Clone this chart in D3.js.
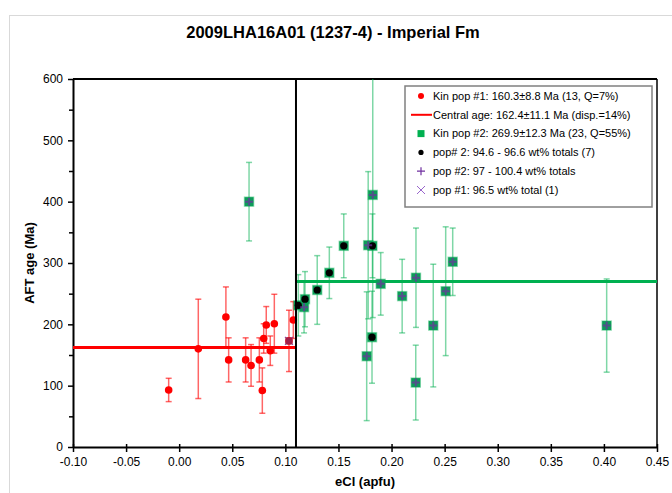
<!DOCTYPE html>
<html>
<head>
<meta charset="utf-8">
<script src="https://cdn.jsdelivr.net/npm/d3@7"></script>
<style>
  body { margin: 0; background: #fff; }
  text { font-family: "Liberation Sans", Arial, sans-serif; }
</style>
</head>
<body>
<div id="chart"></div>
<script>
// 坐标轴刻度
const X_TICKS = [-0.10, -0.05, 0.00, 0.05, 0.10, 0.15, 0.20, 0.25, 0.30, 0.35, 0.40, 0.45];
const Y_TICKS = [0, 100, 200, 300, 400, 500, 600];

// Kin pop #1 (红色圆点)
const POP1_ECL = [-0.0099, 0.018, 0.044, 0.0466, 0.0626, 0.0677, 0.0755, 0.0783, 0.0796, 0.082, 0.0858, 0.0896, 0.1034, 0.1075];
const POP1_AGE = [93, 160, 212, 142, 142, 133, 142, 92, 177, 199, 157, 201, 173, 207];
const POP1_ERR = [19, 81, 49, 36, 36, 34, 36, 37, 24, 30, 24, 48, 50, 30];
// pop #1: 96.5 wt% total (1)
const CROSS_ECL = [0.1034];
const CROSS_AGE = [173];

// Kin pop #2 (绿色方块)
const POP2_ECL = [0.0658, 0.1122, 0.1176, 0.1185, 0.130, 0.1414, 0.155, 0.1766, 0.178, 0.1816, 0.182, 0.1823, 0.1898, 0.210, 0.2228, 0.223, 0.2393, 0.251, 0.2576, 0.4026];
const POP2_AGE = [400, 231, 228, 241, 256, 284, 328, 148, 329, 179, 328, 411, 266, 246, 105, 276, 198, 254, 302, 198];
const POP2_ERR = [64, 50, 42, 45, 56, 42, 52, 105, 120, 75, 52, 200, 51, 60, 61, 81, 100, 105, 55, 76];
// 叠加标记: dot = 94.6-96.6 wt%, plus = 97-100.4 wt%
const POP2_GROUP = ["plus", "dot", "plus", "dot", "dot", "dot", "dot", "plus", "plus", "dot", "dot", "plus", "plus", "plus", "plus", "plus", "plus", "plus", "plus", "plus"];

// 中心年龄线
const CENTRAL_AGES = [
  { from: -0.10, to: 0.11, age: 162.4, color: "#ff0000" },
  { from: 0.11, to: 0.45, age: 269.9, color: "#00b050" }
];
const DIVIDER_ECL = 0.11;

const LEGEND_LABELS = [
  "Kin pop #1: 160.3±8.8 Ma (13, Q=7%)",
  "Central age: 162.4±11.1 Ma (disp.=14%)",
  "Kin pop #2: 269.9±12.3 Ma (23, Q=55%)",
  "pop# 2: 94.6 - 96.6 wt% totals (7)",
  "pop #2: 97 - 100.4 wt% totals",
  "pop #1: 96.5 wt% total (1)"
];

const RED = "#ff0000", GREEN = "#00b050", PURPLE = "#7030a0";

function drawChart() {
  const W = 672, H = 493;
  const margin = { top: 79, right: 15, bottom: 46, left: 73 };
  const width = W - margin.left - margin.right;
  const height = H - margin.top - margin.bottom;

  const svg = d3.select("#chart").append("svg")
    .attr("width", W).attr("height", H);

  // 外框
  svg.append("rect")
    .attr("x", 9.5).attr("y", 15.5)
    .attr("width", W).attr("height", H)
    .attr("fill", "none").attr("stroke", "#d9d9d9");

  svg.append("text")
    .attr("x", 333).attr("y", 38)
    .attr("text-anchor", "middle")
    .style("font-size", "16.5px").style("font-weight", "bold")
    .text("2009LHA16A01 (1237-4) - Imperial Fm");

  const g = svg.append("g").attr("transform", `translate(${margin.left},${margin.top})`);

  const x = d3.scaleLinear().domain([-0.10, 0.45]).range([0, width]);
  const y = d3.scaleLinear().domain([0, 600]).range([height, 0]);

  g.append("clipPath").attr("id", "clip")
    .append("rect").attr("width", width).attr("height", height);

  // 坐标轴
  const xAxis = g.append("g")
    .attr("transform", `translate(0,${height})`)
    .call(d3.axisBottom(x).tickValues(X_TICKS).tickFormat(d => d.toFixed(2)).tickSizeInner(5).tickSizeOuter(0));
  xAxis.selectAll(".tick line").attr("y1", -3).attr("y2", 5).attr("stroke-width", 1.5);
  xAxis.selectAll("text").style("font-size", "12px").attr("dy", "0.9em").attr("fill", "#000");
  xAxis.select(".domain").attr("stroke-width", 2);

  const yAxis = g.append("g")
    .call(d3.axisLeft(y).tickValues(Y_TICKS).tickSizeInner(5).tickSizeOuter(0));
  yAxis.selectAll("text").style("font-size", "12px").attr("x", -10).attr("fill", "#000");
  yAxis.selectAll(".tick line").attr("stroke-width", 1.5);
  yAxis.select(".domain").attr("stroke-width", 2);
  // 次刻度
  g.append("g")
    .call(d3.axisLeft(y).tickValues(d3.range(50, 600, 100)).tickSize(4).tickFormat(""))
    .call(a => a.select(".domain").remove())
    .selectAll("line").attr("stroke-width", 1.5);

  // 顶部与右侧边框
  g.append("line").attr("x1", 0).attr("x2", width).attr("y1", 0).attr("y2", 0)
    .attr("stroke", "#000").attr("stroke-width", 2);
  g.append("line").attr("x1", width).attr("x2", width).attr("y1", 0).attr("y2", height)
    .attr("stroke", "#000").attr("stroke-width", 1.5);

  // 轴标题
  svg.append("text")
    .attr("x", margin.left + width / 2).attr("y", 486)
    .attr("text-anchor", "middle")
    .style("font-size", "13px").style("font-weight", "bold")
    .text("eCl (apfu)");
  svg.append("text")
    .attr("transform", `translate(34,${margin.top + height / 2}) rotate(-90)`)
    .attr("text-anchor", "middle")
    .style("font-size", "13px").style("font-weight", "bold")
    .text("AFT age (Ma)");

  const plot = g.append("g").attr("clip-path", "url(#clip)");

  // 中心年龄线
  plot.selectAll(".central")
    .data(CENTRAL_AGES).enter().append("line")
    .attr("x1", d => x(d.from)).attr("x2", d => x(d.to))
    .attr("y1", d => y(d.age)).attr("y2", d => y(d.age))
    .attr("stroke", d => d.color).attr("stroke-width", 3);

  // 误差线
  function errorBars(xs, ages, errs, color) {
    const data = xs.map((v, i) => ({ x: v, age: ages[i], err: errs[i] }));
    const eb = plot.append("g").attr("stroke", color).attr("stroke-width", 1.5);
    eb.selectAll(".v").data(data).enter().append("line")
      .attr("x1", d => x(d.x)).attr("x2", d => x(d.x))
      .attr("y1", d => y(d.age + d.err)).attr("y2", d => y(d.age - d.err));
    ["top", "bot"].forEach(k => {
      eb.selectAll(".c" + k).data(data).enter().append("line")
        .attr("x1", d => x(d.x) - 3).attr("x2", d => x(d.x) + 3)
        .attr("y1", d => y(k === "top" ? d.age + d.err : d.age - d.err))
        .attr("y2", d => y(k === "top" ? d.age + d.err : d.age - d.err));
    });
  }
  errorBars(POP2_ECL, POP2_AGE, POP2_ERR, "rgba(0,176,80,0.5)");
  errorBars(POP1_ECL, POP1_AGE, POP1_ERR, "rgba(255,0,0,0.6)");

  // 分隔竖线
  g.append("line")
    .attr("x1", x(DIVIDER_ECL)).attr("x2", x(DIVIDER_ECL))
    .attr("y1", 0).attr("y2", height)
    .attr("stroke", "#000").attr("stroke-width", 2);

  // pop #1 红点
  plot.selectAll(".p1").data(POP1_ECL.map((v, i) => ({ x: v, age: POP1_AGE[i] })))
    .enter().append("circle")
    .attr("cx", d => x(d.x)).attr("cy", d => y(d.age)).attr("r", 3.8)
    .attr("fill", RED);

  plot.selectAll(".p1x").data(CROSS_ECL.map((v, i) => ({ x: v, age: CROSS_AGE[i] })))
    .enter().append("path")
    .attr("d", d => { const cx = x(d.x), cy = y(d.age); return `M${cx-4},${cy-4}L${cx+4},${cy+4}M${cx-4},${cy+4}L${cx+4},${cy-4}`; })
    .attr("stroke", PURPLE).attr("stroke-width", 1.2).attr("opacity", 0.8);
  plot.selectAll(".p1xr").data(CROSS_ECL.map((v, i) => ({ x: v, age: CROSS_AGE[i] })))
    .enter().append("rect")
    .attr("x", d => x(d.x) - 3.5).attr("y", d => y(d.age) - 3.5)
    .attr("width", 7).attr("height", 7).attr("fill", "#a0204a");

  // pop #2 绿方块
  const p2 = POP2_ECL.map((v, i) => ({ x: v, age: POP2_AGE[i], group: POP2_GROUP[i] }));
  plot.selectAll(".p2").data(p2).enter().append("rect")
    .attr("x", d => x(d.x) - 4.5).attr("y", d => y(d.age) - 4.5)
    .attr("width", 9).attr("height", 9)
    .attr("fill", "#0f9a5a").attr("stroke", "rgba(0,176,80,0.4)").attr("stroke-width", 1.5);

  plot.selectAll(".p2dot").data(p2.filter(d => d.group === "dot")).enter().append("circle")
    .attr("cx", d => x(d.x)).attr("cy", d => y(d.age)).attr("r", 3.6)
    .attr("fill", "#000");
  plot.selectAll(".p2plus").data(p2.filter(d => d.group === "plus")).enter().append("path")
    .attr("d", d => { const cx = x(d.x), cy = y(d.age); return `M${cx-4},${cy}L${cx+4},${cy}M${cx},${cy-4}L${cx},${cy+4}`; })
    .attr("stroke", PURPLE).attr("stroke-width", 2).attr("opacity", 0.7);

  // 图例
  const lg = svg.append("g").attr("transform", "translate(405,86)");
  lg.append("rect").attr("width", 247).attr("height", 121)
    .attr("fill", "#fff").attr("stroke", "#808080").attr("stroke-width", 1.5);
  const rowY = i => 10 + i * 18.8;
  const mx = 16;
  lg.selectAll(".lt").data(LEGEND_LABELS).enter().append("text")
    .attr("x", 28).attr("y", (d, i) => rowY(i)).attr("dy", "0.35em")
    .style("font-size", "11px").text(d => d);
  lg.append("circle").attr("cx", mx).attr("cy", rowY(0)).attr("r", 3).attr("fill", RED);
  lg.append("line").attr("x1", 6).attr("x2", 27).attr("y1", rowY(1)).attr("y2", rowY(1))
    .attr("stroke", RED).attr("stroke-width", 2);
  lg.append("rect").attr("x", mx - 3.5).attr("y", rowY(2) - 3.5).attr("width", 7).attr("height", 7).attr("fill", GREEN);
  lg.append("circle").attr("cx", mx).attr("cy", rowY(3)).attr("r", 2.6).attr("fill", "#000");
  lg.append("path").attr("d", `M${mx-4},${rowY(4)}L${mx+4},${rowY(4)}M${mx},${rowY(4)-4}L${mx},${rowY(4)+4}`)
    .attr("stroke", PURPLE).attr("stroke-width", 1.2);
  lg.append("path").attr("d", `M${mx-4},${rowY(5)-4}L${mx+4},${rowY(5)+4}M${mx-4},${rowY(5)+4}L${mx+4},${rowY(5)-4}`)
    .attr("stroke", "#9966cc").attr("stroke-width", 1);
}

drawChart();
</script>
</body>
</html>
